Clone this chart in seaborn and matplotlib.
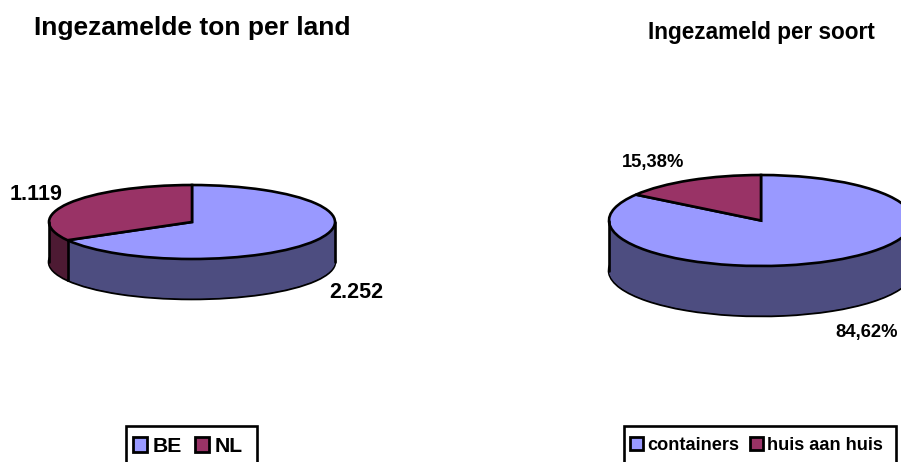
import numpy as np
import matplotlib
matplotlib.use("Agg")
import matplotlib.pyplot as plt
from matplotlib.patches import Patch, Rectangle
import seaborn as sns

# --- data ---
land_labels = ["BE", "NL"]
land_values = [2252, 1119]
land_texts = ["2.252", "1.119"]
soort_labels = ["containers", "huis aan huis"]
soort_values = [84.62, 15.38]
soort_texts = ["84,62%", "15,38%"]

sns.set_theme(style="white")
plt.rcParams["font.family"] = ["Liberation Sans", "DejaVu Sans"]
top_colors = sns.color_palette(["#9999FF", "#993366"])
side_colors = sns.color_palette(["#4D4D80", "#4D1A33"])

W, H = 901, 462
LW = 1.9
fig = plt.figure(figsize=(W / 100, H / 100), dpi=100, facecolor="white")


def pie3d(values, cx, cy, rx, ry, depth_px):
    ax = fig.add_axes([(cx - rx) / W, 1 - (cy + ry) / H, 2 * rx / W, 2 * ry / H])
    depth = depth_px / ry
    common = dict(startangle=90, counterclock=False, radius=1, colors=side_colors)
    ax.pie(values, center=(0, -depth),
           wedgeprops=dict(edgecolor="black", linewidth=LW, clip_on=False), **common)
    for d in np.linspace(depth, 0, int(depth_px * 2))[1:]:
        ax.pie(values, center=(0, -d), **common,
               wedgeprops=dict(linewidth=0, clip_on=False))
    ax.pie(values, center=(0, 0), startangle=90, counterclock=False, colors=top_colors,
           wedgeprops=dict(edgecolor="black", linewidth=LW, clip_on=False))
    # vertical rim edges
    rim = dict(color="black", lw=LW, clip_on=False, solid_capstyle="round")
    ax.plot([-1, -1], [0, -depth], **rim)
    ax.plot([1, 1], [0, -depth], **rim)
    ang = 2 * np.pi * values[0] / sum(values)
    if np.cos(ang) < 0:
        ax.plot([np.sin(ang)] * 2, [np.cos(ang), np.cos(ang) - depth], **rim)
    ax.set_aspect("auto")
    ax.set_xlim(-1, 1)
    ax.set_ylim(-1, 1)
    ax.axis("off")
    return ax


pie3d(land_values, 192, 222, 143, 37, 40)
pie3d(soort_values, 761, 220.5, 152, 45.5, 50)


def txt(x, y, s, size):
    fig.text(x / W, 1 - y / H, s, ha="center", va="center", fontsize=size,
             fontweight="bold", color="black")


txt(192, 28, "Ingezamelde ton per land", 19)
txt(761, 33, "Ingezameld per soort", 16.3)
txt(356, 292, land_texts[0], 15.5)
txt(36, 194, land_texts[1], 15.5)
txt(867, 333, soort_texts[0], 13.2)
txt(653, 163, soort_texts[1], 13.2)


def legend(labels, box_x0, box_x1, box_y0, hx, hy, size, hl, hh, pad, colsp):
    fig.add_artist(Rectangle((box_x0 / W, 1 - (box_y0 + 60) / H), (box_x1 - box_x0) / W, 60 / H,
                             transform=fig.transFigure, facecolor="white", edgecolor="black",
                             linewidth=LW))
    handles = [Patch(facecolor=c, edgecolor="black", linewidth=2.0) for c in top_colors]
    leg = fig.legend(handles, labels, loc="upper left", bbox_to_anchor=(hx / W, 1 - hy / H),
                     ncol=2, frameon=False, borderaxespad=0, borderpad=0, handlelength=hl,
                     handleheight=hh, handletextpad=pad, columnspacing=colsp,
                     labelcolor="black",
                     prop=dict(weight="bold", size=size, family="Liberation Sans"))
    leg.set_zorder(5)


legend(land_labels, 126, 257, 426, 133, 437, 15.2, 0.66, 0.66, 0.28, 0.6)
legend(soort_labels, 624, 896, 426, 630, 437, 13.1, 0.72, 0.75, 0.22, 0.62)

fig.savefig("out.png", dpi=100, facecolor="white")
